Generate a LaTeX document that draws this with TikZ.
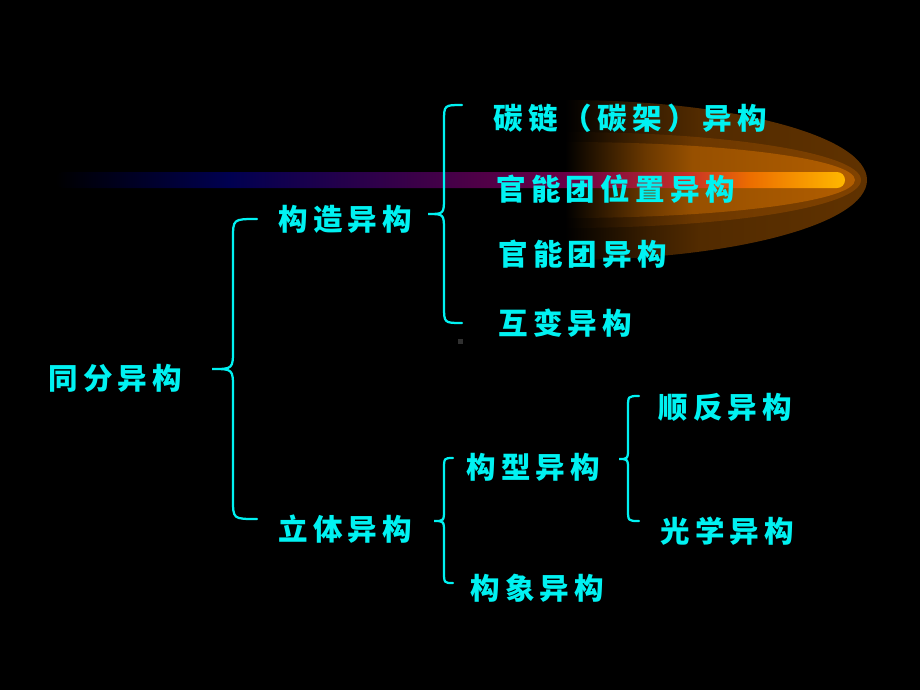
\documentclass[tikz,border=0pt]{standalone}
\usepackage{fontspec}
\usepackage{xcolor}
\newfontfamily\cjk{Noto Sans CJK SC}[LetterSpace=18]
\usetikzlibrary{positioning, shadings}

\definecolor{textcyan}{RGB}{0,242,242}
\definecolor{dotgray}{RGB}{48,48,48}
\definecolor{haloA}{RGB}{96,50,0}
\definecolor{haloB}{RGB}{128,66,0}
\definecolor{haloC}{RGB}{178,94,0}
\definecolor{barnavy}{RGB}{0,0,80}
\definecolor{barviolet}{RGB}{60,0,72}
\definecolor{barplum}{RGB}{110,0,70}
\definecolor{barred}{RGB}{200,48,40}
\definecolor{barorange}{RGB}{236,110,0}
\definecolor{baryellow}{RGB}{255,184,0}

\pgfdeclarehorizontalshading{cometbar}{100bp}{color(0bp)=(black); color(25bp)=(black);
  color(36bp)=(barnavy); color(48bp)=(barviolet); color(58bp)=(barplum);
  color(65bp)=(barred); color(69bp)=(barorange); color(75bp)=(baryellow); color(100bp)=(baryellow)}
\pgfdeclarehorizontalshading{haloouter}{100bp}{color(0bp)=(black); color(50bp)=(black);
  color(57bp)=(haloA!60!black); color(61bp)=(haloA!85!black); color(75bp)=(haloA); color(100bp)=(haloA)}
\pgfdeclarehorizontalshading{halomiddle}{100bp}{color(0bp)=(black); color(50bp)=(black);
  color(57bp)=(haloB!60!black); color(61bp)=(haloB!85!black); color(75bp)=(haloB); color(100bp)=(haloB)}
\pgfdeclarehorizontalshading{haloinner}{100bp}{color(0bp)=(black); color(50bp)=(black);
  color(57bp)=(haloC!60!black); color(61bp)=(haloC!85!black); color(75bp)=(haloC); color(100bp)=(haloC)}

% brace: end x, line x, tip x, top y, tip y, bottom y, corner
\newcommand\curlybrace[7]{\draw[bracepath] (#1,#4) .. controls (#2,#4) .. (#2,#4+#7)
  -- (#2,#5-#7) .. controls (#2,#5) .. (#3,#5) .. controls (#2,#5) .. (#2,#5+#7)
  -- (#2,#6-#7) .. controls (#2,#6) .. (#1,#6);}

\begin{document}
\begin{tikzpicture}[x=0.25mm, y=-0.25mm,
  item/.style={text=textcyan, font=\cjk\bfseries\fontsize{21}{25}\selectfont, inner sep=0pt, anchor=west},
  bracepath/.style={draw=textcyan, line width=1.6pt, line cap=round}]
\fill[black] (0,0) rectangle (920,690);

% comet
\begin{scope}
\clip (565,0) rectangle (920,690);
\shade[shading=haloouter] (565,180) ellipse [x radius=302, y radius=80];
\shade[shading=halomiddle] (565,180) ellipse [x radius=296, y radius=48];
\shade[shading=haloinner] (565,180) ellipse [x radius=290, y radius=38];
\end{scope}
\shade[shading=cometbar, rounded corners=2mm] (55,172) rectangle (845,188);

\fill[dotgray] (458,339) rectangle (463,344);

\node[item] (root) at (48,378) {同分异构};
\node[item] (gouzao) at (278,219) {构造异构};
\node[item] (liti) at (278,529) {立体异构};
\node[item] (tanlian) at (493,118) {碳链（碳架）异构};
\node[item] (guanweizhi) at (496,189) {官能团位置异构};
\node[item] (guanneng) at (498,254) {官能团异构};
\node[item] (hubian) at (498,323) {互变异构};
\node[item] (gouxing) at (466,467) {构型异构};
\node[item] (gouxiang) at (470,588) {构象异构};
\node[item] (shunfan) at (658,407) {顺反异构};
\node[item] (guangxue) at (660,531) {光学异构};

\curlybrace{257}{233}{212}{219}{369}{519}{20}
\curlybrace{462}{444}{428}{105}{214}{323}{17}
\curlybrace{453}{444}{434}{458}{521}{583}{12}
\curlybrace{639}{628}{619}{396}{459}{521}{12}
\end{tikzpicture}
\end{document}
